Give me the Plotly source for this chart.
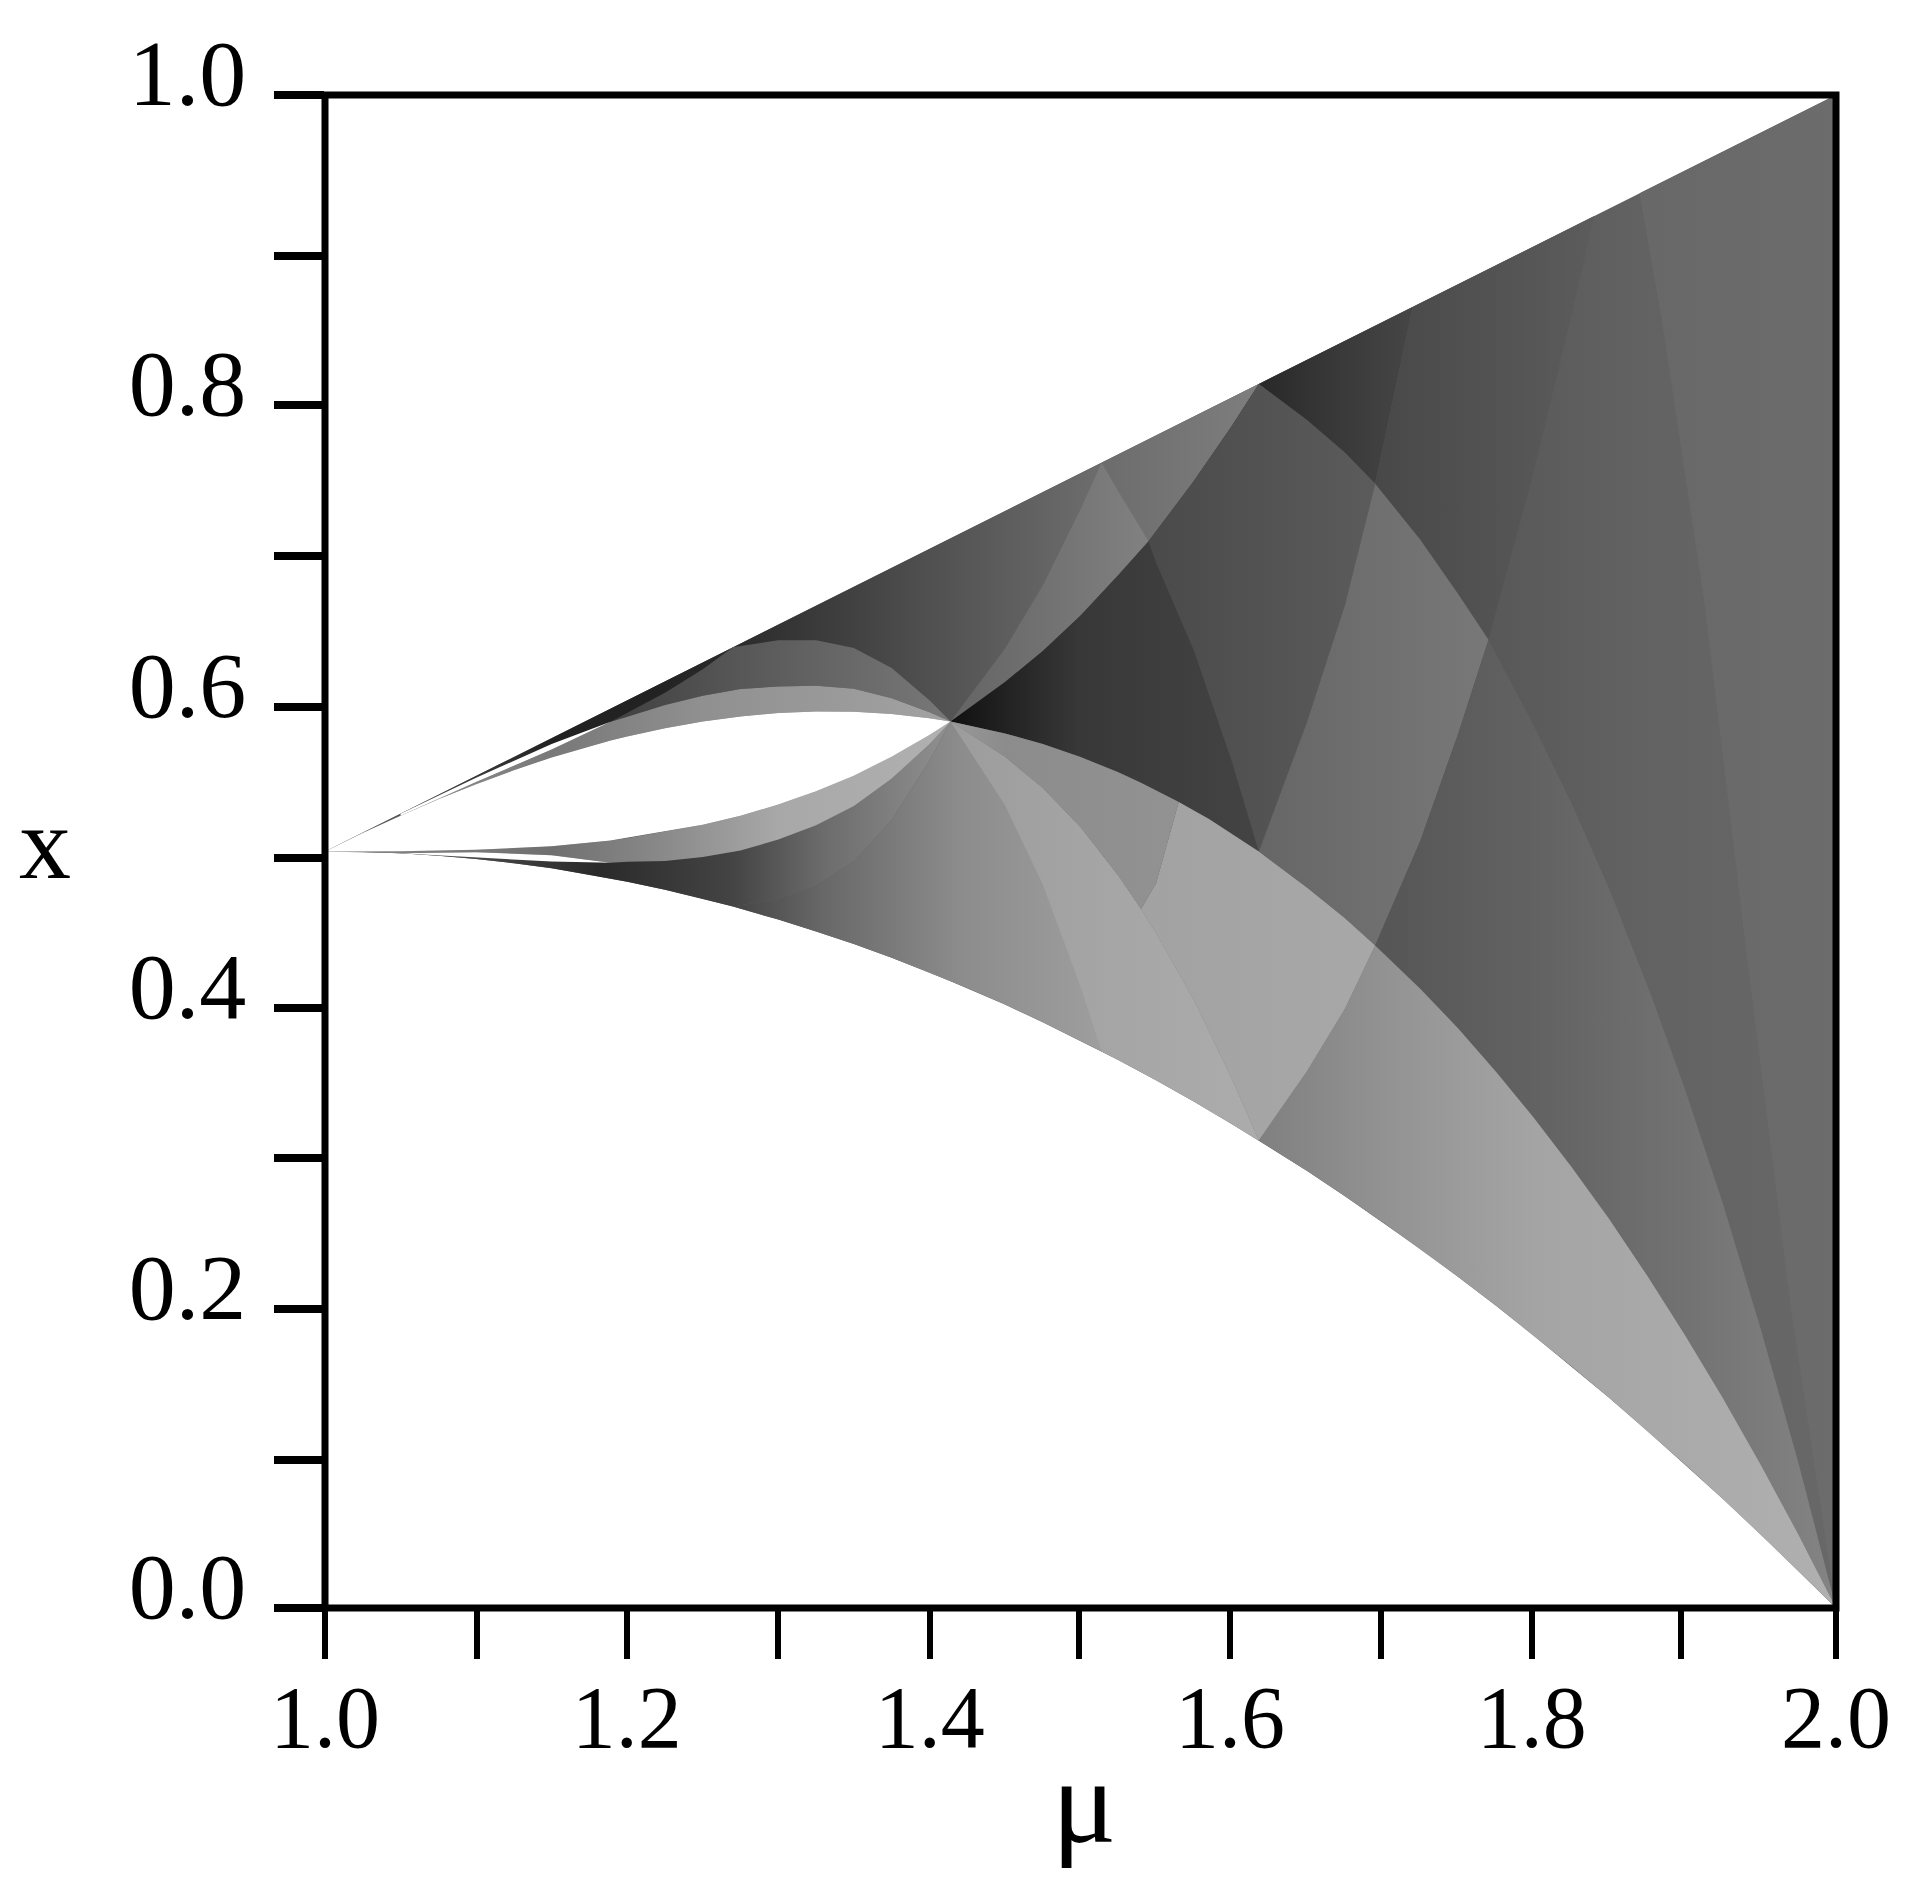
import plotly.graph_objects as go

# ---- curves: (mu, x) ----
UPPER = [(1.0,.5),(1.27,.635),(1.414,.707),(1.514,.757),(1.618,.809),(1.72,.86),(1.84,.92),(1.87,.935),(2.0,1.0)]
LOWER = [(1.0,.5),(1.025,.4997),(1.05,.4988),(1.075,.4972),(1.1,.495),(1.125,.4922),(1.15,.4889),(1.175,.4847),(1.189,.4821),(1.2,.48),(1.225,.4747),(1.25,.4688),(1.27,.4636),(1.3,.455),(1.325,.4472),(1.35,.4388),(1.375,.4297),(1.4,.42),(1.414,.4142),(1.425,.4097),(1.45,.3988),(1.475,.3872),(1.5,.375),(1.514,.3678),(1.525,.3622),(1.55,.3488),(1.575,.3347),(1.6,.32),(1.618,.309),(1.65,.2888),(1.675,.2722),(1.7,.255),(1.725,.2372),(1.75,.2188),(1.775,.1997),(1.8,.18),(1.825,.1597),(1.85,.1388),(1.875,.1172),(1.9,.095),(1.925,.0722),(1.95,.0488),(1.975,.0247),(2.0,0)]
DOME = [(1.0,.5),(1.025,.5122),(1.05,.5237),(1.075,.5345),(1.1,.5445),(1.125,.5537),(1.15,.5622),(1.175,.5695),(1.189,.5733),(1.2,.576),(1.225,.5815),(1.25,.5859),(1.275,.5893),(1.3,.5915),(1.325,.5925),(1.35,.5924),(1.375,.5908),(1.4,.588),(1.414,.586),(1.45,.578),(1.475,.5711),(1.5,.5625),(1.525,.5523),(1.54,.5455),(1.565,.5327),(1.585,.5215),(1.6,.512),(1.618,.5),(1.65,.476),(1.675,.4559),(1.695,.4378),(1.725,.4092),(1.75,.383),(1.775,.3545),(1.8,.324),(1.825,.2914),(1.85,.257),(1.875,.2197),(1.9,.1805),(1.925,.139),(1.95,.095),(1.975,.0488),(2.0,0)]
GAP_FLOOR = [(1.0,.5),(1.05,.5001),(1.1,.5011),(1.15,.5035),(1.189,.5073),(1.2,.509),(1.25,.5176),(1.275,.5236),(1.3,.531),(1.325,.5399),(1.35,.55),(1.375,.5627),(1.4,.577),(1.414,.586)]
ARCH_UP = [(1.414,.586),(1.45,.612),(1.475,.6326),(1.5,.656),(1.525,.6827),(1.545,.705),(1.575,.7448),(1.6,.781),(1.618,.809)]
ARCH_DOWN = [(1.618,.809),(1.65,.785),(1.675,.7636),(1.695,.743),(1.725,.7059),(1.75,.67),(1.77,.64),(1.8,.583),(1.825,.5318),(1.85,.475),(1.878,.404),(1.9,.343),(1.925,.2676),(1.95,.185),(1.975,.0964),(2.0,0)]
BAND_TOP = [(1.0,.5),(1.05,.5249),(1.1,.5488),(1.15,.571),(1.189,.5858),(1.2,.589),(1.225,.5969),(1.25,.603),(1.275,.6074),(1.3,.609),(1.325,.6096),(1.35,.6075),(1.375,.6013),(1.4,.592),(1.414,.586)]
FAN_DOWN = [(1.414,.586),(1.45,.5626),(1.475,.5419),(1.5,.516),(1.525,.4839),(1.54,.462),(1.55,.446),(1.575,.4019),(1.6,.35),(1.618,.309)]
FAN_INNER = [(1.414,.586),(1.45,.5307),(1.475,.4783),(1.5,.411),(1.514,.3678)]
RIDGE_RISE = [(1.618,.309),(1.65,.355),(1.675,.396),(1.695,.4378),(1.725,.5073),(1.75,.578),(1.77,.64),(1.8,.751),(1.825,.8545),(1.84,.92)]
SPUR_UP = [(1.414,.586),(1.45,.634),(1.475,.6757),(1.5,.726),(1.514,.757)]
SPUR_DOWN = [(1.514,.757),(1.525,.738),(1.545,.705),(1.55,.691),(1.575,.633),(1.6,.56),(1.618,.5)]
SPUR_RISE = [(1.618,.5),(1.65,.586),(1.675,.663),(1.695,.743),(1.72,.86)]
LOBE_FLOOR = [(1.0,.5),(1.05,.4988),(1.1,.4963),(1.15,.4934),(1.189,.4925),(1.2,.4932),(1.225,.4938),(1.25,.4963),(1.275,.5006),(1.3,.508),(1.325,.5173),(1.35,.53),(1.375,.5482),(1.4,.571),(1.414,.586)]
ARCH_OUTER = [(1.0,.5),(1.05,.5237),(1.1,.5459),(1.15,.5674),(1.189,.5858),(1.2,.5918),(1.225,.6049),(1.25,.6204),(1.27,.635),(1.3,.6396),(1.325,.6396),(1.35,.6345),(1.375,.6212),(1.4,.6),(1.414,.586)]
LOBE_OUTER = [(1.0,.5),(1.05,.4988),(1.1,.4995),(1.15,.4975),(1.189,.4925),(1.2,.4898),(1.225,.484),(1.25,.4745),(1.27,.4636),(1.3,.4685),(1.325,.4775),(1.35,.4934),(1.375,.5208),(1.4,.56),(1.414,.586)]
CROSS_RISE = [(1.514,.3678),(1.53,.4136),(1.54,.462),(1.55,.479),(1.565,.5327)]
FAR_LINE = [(1.87,.935),(1.885,.85),(1.913,.664),(1.94,.44),(1.97,.2),(2.0,0)]

# tick marks as they sit in the picture (their spacing is slightly uneven there)
X_TICKS = [1.0,1.1006,1.1997,1.2995,1.4002,1.4992,1.599,1.6989,1.7987,1.8977,2.0]
X_LABELS = ["1.0","","1.2","","1.4","","1.6","","1.8","","2.0"]
Y_TICKS = [0.0,0.0981,0.1977,0.2974,0.3963,0.496,0.5956,0.6953,0.795,0.8939,1.0]
Y_LABELS = ["0.0","","0.2","","0.4","","0.6","","0.8","","1.0"]


def seg(curve, a, b):
    lo, hi = min(a, b), max(a, b)
    pts = [p for p in curve if lo <= p[0] <= hi]
    return pts if a <= b else pts[::-1]


# region outline, then gray stops (mu, level)
REGIONS = [
    ("envelope", seg(UPPER,1,2)+seg(LOWER,2,1), [(1.0,0x66),(1.77,0x58),(1.87,0x62),(2.0,0x68)]),
    ("far right", seg(FAR_LINE,1.87,2)+seg(UPPER,2,1.87), [(1.87,0x68),(2.0,0x6c)]),
    ("upper wedge", seg(UPPER,1,1.618)+seg(ARCH_UP,1.618,1.414)+seg(DOME,1.414,1),
     [(1.0,0x77),(1.08,0x44),(1.15,0x22),(1.22,0x22),(1.29,0x30),(1.4,0x50),(1.5,0x6a),(1.618,0x7e)]),
    ("spur lens", seg(SPUR_UP,1.414,1.514)+seg(SPUR_DOWN,1.514,1.545)+seg(ARCH_UP,1.545,1.414),
     [(1.414,0x64),(1.47,0x70),(1.55,0x82)]),
    ("outer arch band", seg(ARCH_OUTER,1.189,1.414)+seg(BAND_TOP,1.414,1.189),
     [(1.189,0x40),(1.27,0x56),(1.414,0x78)]),
    ("top band", seg(DOME,1,1.414)+seg(BAND_TOP,1.414,1.189)+seg(ARCH_OUTER,1.189,1),
     [(1.0,0xa0),(1.15,0x78),(1.25,0x90),(1.414,0xa2)]),
    ("sliver top", seg(ARCH_OUTER,1.05,1.189)+seg(BAND_TOP,1.189,1.05), [(1.0,0xff),(2.0,0xff)]),
    ("wedge dark", seg(UPPER,1.618,1.72)+seg(SPUR_RISE,1.72,1.695)+seg(ARCH_DOWN,1.695,1.618),
     [(1.618,0x28),(1.66,0x36),(1.72,0x46)]),
    ("wedge mid", seg(UPPER,1.72,1.84)+seg(RIDGE_RISE,1.84,1.77)+seg(ARCH_DOWN,1.77,1.695)+seg(SPUR_RISE,1.695,1.72),
     [(1.695,0x48),(1.84,0x5c)]),
    ("central lens", seg(ARCH_UP,1.414,1.618)+seg(ARCH_DOWN,1.618,1.77)+seg(RIDGE_RISE,1.77,1.695)+seg(DOME,1.695,1.414),
     [(1.414,0x10),(1.45,0x22),(1.5,0x38),(1.6,0x42),(1.75,0x50)]),
    ("central mid", seg(ARCH_UP,1.545,1.618)+seg(ARCH_DOWN,1.618,1.695)+seg(SPUR_RISE,1.695,1.618)+seg(SPUR_DOWN,1.618,1.545),
     [(1.545,0x4a),(1.7,0x5c)]),
    ("central right", seg(SPUR_RISE,1.618,1.695)+seg(ARCH_DOWN,1.695,1.77)+seg(RIDGE_RISE,1.77,1.695)+seg(DOME,1.695,1.618),
     [(1.618,0x66),(1.77,0x78)]),
    ("band D-arch", seg(RIDGE_RISE,1.695,1.77)+seg(ARCH_DOWN,1.77,2)+seg(DOME,2,1.695),
     [(1.7,0x56),(1.8,0x62),(1.9,0x72),(2.0,0x84)]),
    ("light right", seg(RIDGE_RISE,1.618,1.695)+seg(DOME,1.695,2)+seg(LOWER,2,1.618),
     [(1.618,0x80),(1.7,0x92),(1.8,0xa4),(2.0,0xb0)]),
    ("lower lobes", seg(LOWER,1,1.27)+seg(LOBE_OUTER,1.27,1.414)+seg(GAP_FLOOR,1.414,1),
     [(1.0,0x88),(1.08,0x50),(1.18,0x2a),(1.27,0x44),(1.33,0x6c),(1.414,0x90)]),
    ("lower fan", seg(LOWER,1.27,1.618)+seg(FAN_DOWN,1.618,1.414)+seg(LOBE_OUTER,1.414,1.27),
     [(1.27,0x44),(1.33,0x68),(1.42,0x8c),(1.514,0x9e)]),
    ("fan inner", seg(FAN_INNER,1.414,1.514)+seg(LOWER,1.514,1.618)+seg(FAN_DOWN,1.618,1.414),
     [(1.414,0x9c),(1.5,0xa4),(1.618,0xac)]),
    ("lens right", seg(FAN_DOWN,1.54,1.618)+seg(RIDGE_RISE,1.618,1.695)+seg(DOME,1.695,1.565)+seg(CROSS_RISE,1.565,1.54),
     [(1.54,0xa2),(1.7,0xa8)]),
    ("lens left", seg(FAN_DOWN,1.414,1.54)+seg(CROSS_RISE,1.54,1.565)+seg(DOME,1.565,1.414),
     [(1.414,0x98),(1.45,0x8c),(1.565,0x92)]),
    ("floor band", seg(GAP_FLOOR,1,1.414)+seg(LOBE_FLOOR,1.414,1.189)+seg(LOBE_OUTER,1.189,1),
     [(1.0,0x88),(1.15,0x70),(1.22,0x88),(1.3,0xa8),(1.414,0xb0)]),
    ("sliver floor", seg(LOBE_OUTER,1.05,1.189)+seg(LOBE_FLOOR,1.189,1.05), [(1.0,0xff),(2.0,0xff)]),
    ("central gap", seg(DOME,1,1.414)+seg(GAP_FLOOR,1.414,1), [(1.0,0xff),(2.0,0xff)]),
]


def gray(v):
    return f"rgb({v},{v},{v})"


fig = go.Figure()
for name, outline, stops in REGIONS:
    xs = [p[0] for p in outline] + [outline[0][0]]
    ys = [p[1] for p in outline] + [outline[0][1]]
    lo, hi = stops[0][0], stops[-1][0]
    fig.add_trace(go.Scatter(
        x=xs, y=ys, name=name, mode="lines", line=dict(width=0), fill="toself",
        fillgradient=dict(type="horizontal", start=lo, stop=hi,
                          colorscale=[[(m-lo)/(hi-lo), gray(v)] for m, v in stops]),
        hoverinfo="skip", showlegend=False))

FONT = "Liberation Serif"
fig.update_layout(
    width=1899, height=1884, autosize=False,
    margin=dict(l=317, r=71, t=87, b=284),
    paper_bgcolor="white", plot_bgcolor="white", showlegend=False,
    font=dict(family=FONT, color="black"),
    xaxis=dict(range=[1, 2], tickmode="array", tickvals=X_TICKS, ticktext=X_LABELS,
               ticks="outside", ticklen=50, tickwidth=6, tickcolor="black",
               showline=False, showgrid=False, zeroline=False,
               tickfont=dict(family=FONT, size=88, color="black"),
               ticklabelstandoff=-18),
    yaxis=dict(range=[0, 1], tickmode="array", tickvals=Y_TICKS, ticktext=Y_LABELS,
               ticks="outside", ticklen=50, tickwidth=8, tickcolor="black",
               showline=False, showgrid=False, zeroline=False,
               tickfont=dict(family=FONT, size=94, color="black"),
               ticklabelstandoff=9, ticklabelshift=-23),
    shapes=[dict(type="rect", xref="paper", yref="paper", x0=0, x1=1, y0=0, y1=1, layer="above",
                 line=dict(color="black", width=7), fillcolor="rgba(0,0,0,0)")],
    annotations=[
        dict(text="μ", xref="paper", yref="paper", x=0.502, y=-0.128, yanchor="middle", showarrow=False,
             font=dict(family=FONT, size=120, color="black")),
        dict(text="x", xref="paper", yref="paper", x=-0.204, y=0.506, yanchor="middle", showarrow=False,
             font=dict(family=FONT, size=104, color="black")),
    ],
)
fig.write_html("out.html")
